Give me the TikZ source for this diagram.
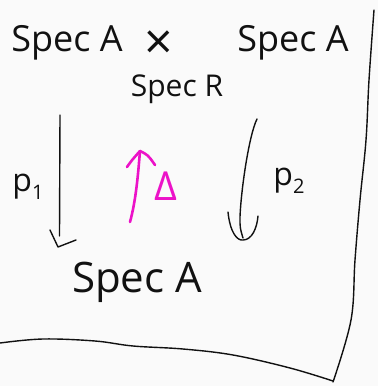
\documentclass[tikz,border=0pt]{standalone}
\usepackage{fontspec}
\setmainfont{Open Sans}
\definecolor{pink}{HTML}{EC12C8}
\definecolor{ink}{HTML}{111111}
\newcommand{\subsc}[1]{\raisebox{-0.25em}{\fontsize{20}{22}\selectfont #1}}
\begin{document}
\begin{tikzpicture}[x=1pt,y=-1pt,
  ink/.style={draw=ink,line width=1.4pt,line cap=round,line join=round},
  pinkline/.style={draw=pink,line width=2.6pt,line cap=round,line join=round},
  big/.style={inner sep=0pt,text=ink,font=\fontsize{36}{40}\selectfont},
  mid/.style={inner sep=0pt,text=ink,font=\fontsize{30}{33}\selectfont},
  lbl/.style={inner sep=0pt,text=ink,font=\fontsize{32}{36}\selectfont}]
\fill[white!98!black] (0,0) rectangle (378,386);
\useasboundingbox (0,0) rectangle (378,386);
% objects
\node[big] (tl) at (67,43) {Spec A};
\node[inner sep=0pt,text=ink,font=\fontsize{50}{54}\selectfont] (times) at (159,45) {×};
\node[big] (tr) at (293,43) {Spec A};
\node[mid] (sr) at (177,89) {Spec R};
\node[inner sep=0pt,text=ink,font=\fontsize{42}{46}\selectfont] (bot) at (137,282) {Spec A};
% labels
\node[lbl] (p1) at (28,187) {p\subsc{1}};
\node[lbl] (p2) at (289,181) {p\subsc{2}};
\node[inner sep=0pt,text=pink,font=\fontsize{40}{44}\selectfont] (delta) at (166,186) {Δ};
% arrow p1
\coordinate (a1s) at (60,115);
\coordinate (a1e) at (58,247);
\draw[ink] (a1s) -- (59.5,236);
\draw[ink] (50,230) -- (a1e) -- (76,240);
% arrow p2
\coordinate (a2s) at (257,119);
\coordinate (a2e) at (243,240);
\draw[ink] (a2s) .. controls (249,135) and (241,190) .. (240,217) .. controls (240,228) .. (243,238);
\draw[ink] (228,212) .. controls (230,232) and (237,241) .. (a2e) .. controls (252,240) and (257,228) .. (258,216);
% diagonal arrow
\coordinate (ds) at (130,222);
\coordinate (de) at (140,151);
\draw[pinkline] (ds) .. controls (136,200) and (138,175) .. (de);
\draw[pinkline] (127,167) .. controls (132,160) .. (de) .. controls (148,155) .. (155,165);
% frame
\draw[ink] plot[smooth,tension=0.6] coordinates {(374,10) (369,80) (366,140) (360,200) (355,260) (351,320) (333,382)};
\draw[ink] plot[smooth,tension=0.6] coordinates {(0,343) (43,339) (95,341) (133,346) (183,349) (233,355) (290,368) (333,381)};
\end{tikzpicture}
\end{document}
